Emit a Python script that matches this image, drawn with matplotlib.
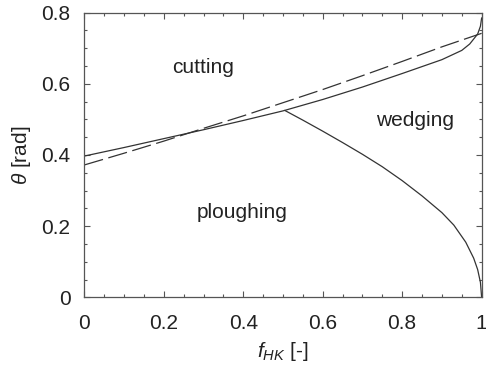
import numpy as np
import matplotlib
matplotlib.use("Agg")
import matplotlib.pyplot as plt
from matplotlib.ticker import MultipleLocator

plt.rcParams['font.family'] = ['Liberation Sans', 'DejaVu Sans']
plt.rcParams['mathtext.fontset'] = 'custom'
plt.rcParams['mathtext.it'] = 'Liberation Sans:italic'
plt.rcParams['mathtext.rm'] = 'Liberation Sans'
plt.rcParams['lines.scale_dashes'] = False

# cutting / ploughing-wedging boundary (solid)
upper_x = [0.0, 0.1, 0.2, 0.3, 0.4, 0.5, 0.6, 0.7, 0.8, 0.9, 0.95, 0.97, 0.99, 0.997, 1.0]
upper_y = [0.397, 0.421, 0.446, 0.471, 0.497, 0.524, 0.556, 0.591, 0.629, 0.668, 0.694, 0.712, 0.740, 0.762, 0.785]

# ploughing / wedging boundary (solid)
lower_x = [0.505, 0.55, 0.6, 0.65, 0.7, 0.75, 0.8, 0.85, 0.9, 0.93, 0.96, 0.98, 0.99, 0.997, 1.0]
lower_y = [0.525, 0.498, 0.467, 0.435, 0.402, 0.367, 0.328, 0.285, 0.238, 0.203, 0.155, 0.110, 0.078, 0.042, 0.0]

# approximate boundary (dashed)
dash_x = [0.0, 0.1, 0.2, 0.3, 0.4, 0.5, 0.6, 0.7, 0.8, 0.9, 1.0]
dash_y = [0.372, 0.405, 0.439, 0.475, 0.510, 0.547, 0.584, 0.623, 0.663, 0.704, 0.742]

fig = plt.figure(figsize=(4.86, 3.69), dpi=100)
ax = fig.add_axes([0.1735, 0.1943, 0.8175, 0.7713])

lc = '#333333'
ax.plot(upper_x, upper_y, color=lc, lw=0.9)
ax.plot(lower_x, lower_y, color=lc, lw=0.9)
ax.plot(dash_x, dash_y, color=lc, lw=0.9, dashes=(14, 4))

ax.text(0.299, 0.645, 'cutting', fontsize=15, ha='center', va='center', color='#222222')
ax.text(0.832, 0.498, 'wedging', fontsize=15, ha='center', va='center', color='#222222')
ax.text(0.398, 0.237, 'ploughing', fontsize=15, ha='center', va='center', color='#222222')

ax.set_xlim(0, 1)
ax.set_ylim(0, 0.8)
ax.xaxis.set_minor_locator(MultipleLocator(0.05))
ax.yaxis.set_minor_locator(MultipleLocator(0.05))
ax.set_xticks([0, 0.2, 0.4, 0.6, 0.8, 1.0])
ax.set_xticklabels(['0', '0.2', '0.4', '0.6', '0.8', '1'])
ax.set_yticks([0, 0.2, 0.4, 0.6, 0.8])
ax.set_yticklabels(['0', '0.2', '0.4', '0.6', '0.8'])

ax.tick_params(which='both', direction='in', top=True, right=True,
               colors='#555555', labelcolor='#222222', labelsize=15)
ax.tick_params(which='major', length=4, width=0.8)
ax.tick_params(which='minor', length=2, width=0.8)
ax.tick_params(axis='x', which='major', pad=12)
ax.tick_params(axis='y', which='major', pad=10)
for s in ax.spines.values():
    s.set_color('#555555')
    s.set_linewidth(0.9)

ax.set_xlabel(r'$f_{HK}$ [-]', fontsize=15, color='#222222', labelpad=5)
ax.set_ylabel(r'$\theta$ [rad]', fontsize=15, color='#222222', labelpad=6)

fig.savefig('out.png', dpi=100)
